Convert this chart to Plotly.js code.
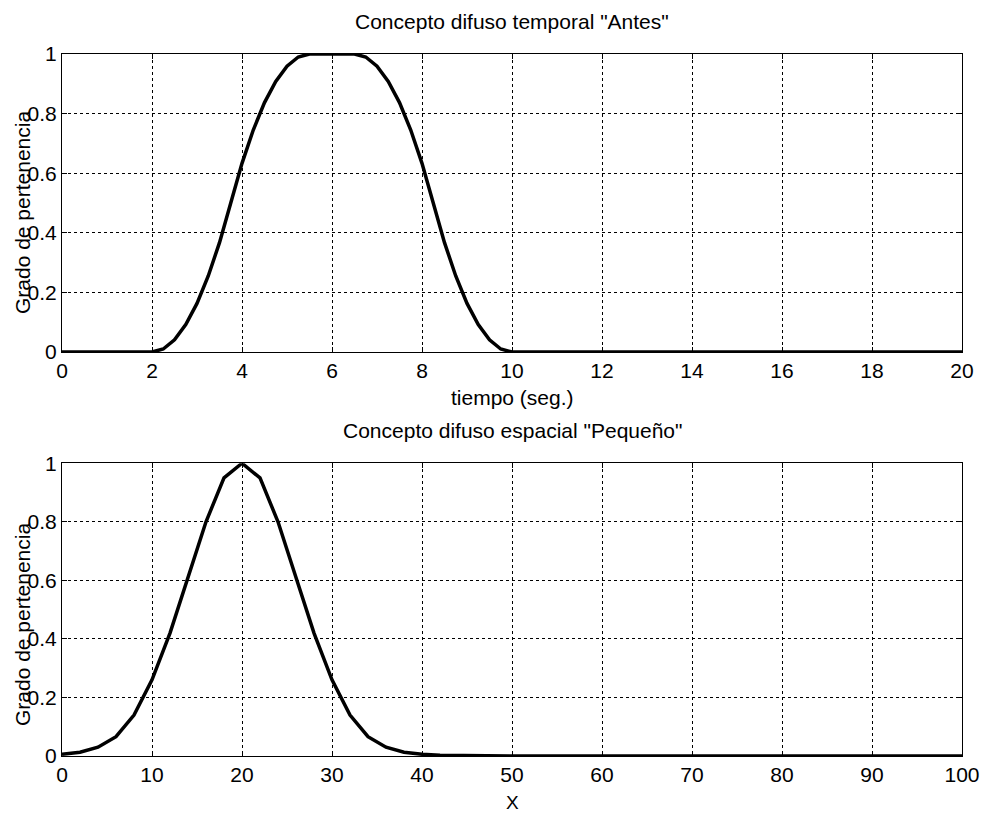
<!DOCTYPE html>
<html>
<head>
<meta charset="utf-8">
<script src="https://cdn.plot.ly/plotly-3.0.1.min.js"></script>
<style>html,body{margin:0;padding:0;background:#fff;}#chart{width:983px;height:814px;}</style>
</head>
<body>
<div id="chart"></div>
<script>
// Top chart: temporal fuzzy concept "Antes"
const tiempo = [0, 1, 2, 2.25, 2.5, 2.75, 3, 3.25, 3.5, 3.75, 4, 4.25, 4.5, 4.75, 5, 5.25, 5.5, 5.75, 6, 6.25, 6.5, 6.75, 7, 7.25, 7.5, 7.75, 8, 8.25, 8.5, 8.75, 9, 9.25, 9.5, 9.75, 10, 12, 14, 16, 18, 20];
const antes  = [0, 0, 0, 0.010, 0.041, 0.092, 0.163, 0.255, 0.367, 0.5, 0.633, 0.745, 0.837, 0.908, 0.959, 0.990, 1, 1, 1, 1, 1, 0.990, 0.959, 0.908, 0.837, 0.745, 0.633, 0.5, 0.367, 0.255, 0.163, 0.092, 0.041, 0.010, 0, 0, 0, 0, 0, 0];

// Bottom chart: spatial fuzzy concept "Pequeño"
const espacioX = [0, 2, 4, 6, 8, 10, 12, 14, 16, 18, 20, 22, 24, 26, 28, 30, 32, 34, 36, 38, 40, 42, 44, 46, 48, 50, 60, 70, 80, 90, 100];
const pequeno  = [0.006, 0.013, 0.03, 0.066, 0.14, 0.26, 0.42, 0.61, 0.80, 0.95, 1.0, 0.95, 0.80, 0.61, 0.42, 0.26, 0.14, 0.066, 0.03, 0.013, 0.006, 0.003, 0.002, 0.001, 0.0005, 0, 0, 0, 0, 0, 0];

const titulo1 = 'Concepto difuso temporal "Antes"';
const titulo2 = 'Concepto difuso espacial "Pequeño"';
const xTitulo1 = 'tiempo (seg.)';
const xTitulo2 = 'X';
const yTitulo = 'Grado de pertenencia';

const FONT = 'Liberation Sans, Arial, sans-serif';
const FS = 21;

const traces = [
  {x: tiempo, y: antes, type: 'scatter', mode: 'lines', line: {color: '#000', width: 3.5}, xaxis: 'x', yaxis: 'y', hoverinfo: 'skip'},
  {x: espacioX, y: pequeno, type: 'scatter', mode: 'lines', line: {color: '#000', width: 3.5}, xaxis: 'x2', yaxis: 'y2', hoverinfo: 'skip'}
];

const axisCommon = {
  showline: true, linecolor: '#000', linewidth: 1, mirror: 'ticks',
  ticks: 'inside', ticklen: 5, tickcolor: '#000', tickwidth: 1,
  showgrid: true, gridcolor: '#000', gridwidth: 1, griddash: 'dot',
  zeroline: false, tickfont: {family: FONT, size: FS, color: '#000'},
  fixedrange: true
};

const layout = {
  width: 983, height: 814,
  margin: {l: 62, r: 21, t: 54, b: 58},
  paper_bgcolor: '#fff', plot_bgcolor: '#fff',
  showlegend: false,
  font: {family: FONT, size: FS, color: '#000'},
  xaxis: Object.assign({}, axisCommon, {domain: [0, 1], range: [0, 20], dtick: 2, tick0: 0, anchor: 'y'}),
  yaxis: Object.assign({}, axisCommon, {domain: [0.5755, 1], range: [0, 1], dtick: 0.2, tick0: 0, anchor: 'x'}),
  xaxis2: Object.assign({}, axisCommon, {domain: [0, 1], range: [0, 100], dtick: 10, tick0: 0, anchor: 'y2'}),
  yaxis2: Object.assign({}, axisCommon, {domain: [0, 0.417], range: [0, 1], dtick: 0.2, tick0: 0, anchor: 'x2'}),
  annotations: [
    {text: titulo1, xref: 'paper', yref: 'paper', x: 0.5, y: 1.046, xanchor: 'center', yanchor: 'middle', showarrow: false, font: {family: FONT, size: FS, color: '#000'}},
    {text: titulo2, xref: 'paper', yref: 'paper', x: 0.5, y: 0.464, xanchor: 'center', yanchor: 'middle', showarrow: false, font: {family: FONT, size: FS, color: '#000'}},
    {text: xTitulo1, xref: 'paper', yref: 'paper', x: 0.5, y: 0.510, xanchor: 'center', yanchor: 'middle', showarrow: false, font: {family: FONT, size: FS, color: '#000'}},
    {text: xTitulo2, xref: 'paper', yref: 'paper', x: 0.5, y: -0.066, xanchor: 'center', yanchor: 'middle', showarrow: false, font: {family: FONT, size: 19, color: '#000'}},
    {text: yTitulo, xref: 'paper', yref: 'paper', x: -0.0444, y: 0.7735, xanchor: 'center', yanchor: 'middle', textangle: -90, showarrow: false, font: {family: FONT, size: FS, color: '#000'}},
    {text: yTitulo, xref: 'paper', yref: 'paper', x: -0.0444, y: 0.1866, xanchor: 'center', yanchor: 'middle', textangle: -90, showarrow: false, font: {family: FONT, size: FS, color: '#000'}}
  ]
};

Plotly.newPlot('chart', traces, layout, {displayModeBar: false, staticPlot: true});
</script>
</body>
</html>
